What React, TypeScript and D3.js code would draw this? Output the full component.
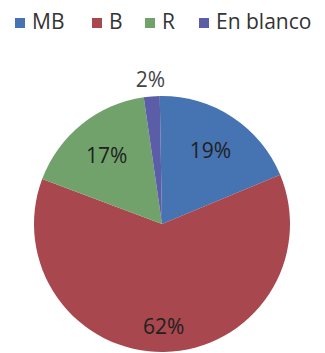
import React from "react";
import * as d3 from "d3";

const categories = ["MB", "B", "R", "En blanco"];
const values = [19, 62, 17, 2];
const labels = ["19%", "62%", "17%", "2%"];
const colors = ["#4673B1", "#A8474E", "#71A26B", "#5B5EA6"];

const W = 325;
const H = 353;
const cx = 162;
const cy = 224;
const R = 128;
const FONT = "'Open Sans', 'DejaVu Sans', sans-serif";

// legend layout
const legendX = [15, 92, 145, 199];
const legendY = 18;

export default function App() {
  const pie = d3
    .pie<number>()
    .sort(null)
    .startAngle((-1 * Math.PI) / 180)
    .endAngle(((360 - 1) * Math.PI) / 180);
  const arcs = pie(values);
  const arc = d3.arc<d3.PieArcDatum<number>>().innerRadius(0).outerRadius(R);
  const labelRadii = [0.69, 0.8, 0.69, 1.14];
  const labelArc = (i: number) =>
    d3.arc<d3.PieArcDatum<number>>().innerRadius(R * labelRadii[i]).outerRadius(R * labelRadii[i]);

  return (
    <svg
      width={W}
      height={H}
      style={{ position: "absolute", left: 0, top: 0, background: "#fff" }}
    >
      <g>
        {categories.map((c, i) => (
          <g key={c}>
            <rect x={legendX[i]} y={legendY} width={10} height={10} fill={colors[i]} />
            <text
              x={legendX[i] + 17}
              y={legendY + 11}
              fontFamily={FONT}
              fontSize={21}
              fill="#333"
            >
              {c}
            </text>
          </g>
        ))}
      </g>
      <g transform={`translate(${cx},${cy})`}>
        {arcs.map((a, i) => (
          <path key={i} d={arc(a) || ""} fill={colors[i]} />
        ))}
        {arcs.map((a, i) => {
          const [x, y] = labelArc(i).centroid(a);
          return (
            <text
              key={"l" + i}
              x={x}
              y={y}
              textAnchor="middle"
              dominantBaseline="central"
              fontFamily={FONT}
              fontSize={21}
              fill={i === 3 ? "#444" : "#1f1f1f"}
            >
              {labels[i]}
            </text>
          );
        })}
      </g>
    </svg>
  );
}
